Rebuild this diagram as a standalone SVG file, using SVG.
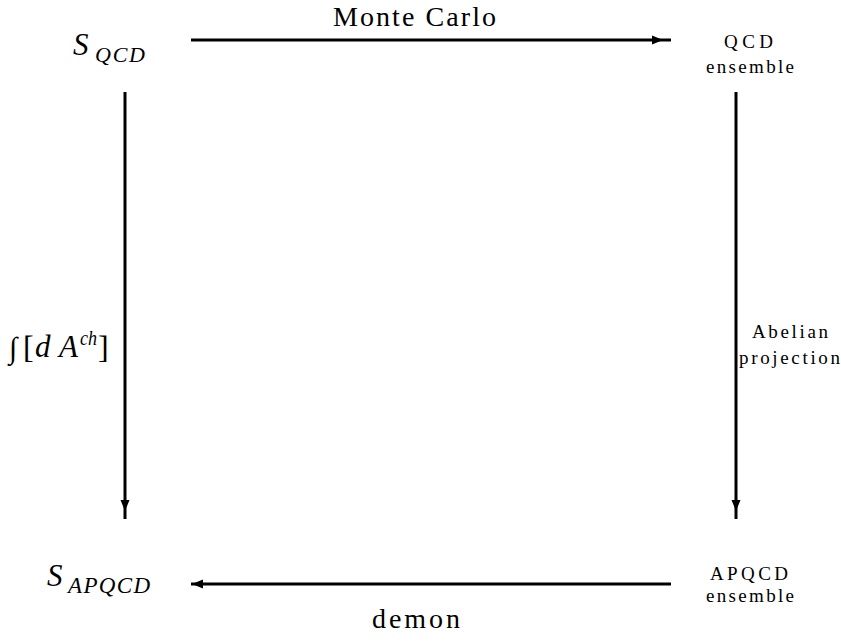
<svg xmlns="http://www.w3.org/2000/svg" width="841" height="643" viewBox="0 0 841 643">
  <style>
    text { font-family: "Liberation Serif", "Times New Roman", "DejaVu Serif", serif; fill: #000; }
    .it { font-style: italic; }
    .big { font-size: 28px; }
    .small { font-size: 19px; }
    .edge { stroke: #000; stroke-width: 3; fill: none; }
  </style>
  <defs>
    <!-- arrowhead pointing right, tip at origin -->
    <polygon id="head" points="-11,-4.5 0,0 -11,4.5" fill="#000"/>
  </defs>
  <rect width="841" height="643" fill="#fff"/>

  <g id="connectors">
    <line class="edge" x1="191" y1="40" x2="671" y2="40"/>
    <use href="#head" transform="translate(663,40)"/>
    <line class="edge" x1="125" y1="92" x2="125" y2="519"/>
    <use href="#head" transform="translate(125,511) rotate(90)"/>
    <line class="edge" x1="736" y1="92" x2="736" y2="519"/>
    <use href="#head" transform="translate(736,511) rotate(90)"/>
    <line class="edge" x1="191" y1="584" x2="671" y2="584"/>
    <use href="#head" transform="translate(192,584) rotate(180)"/>
  </g>

  <g id="edge-labels">
    <text class="big" x="333" y="26" textLength="163" lengthAdjust="spacing">Monte Carlo</text>
    <text class="big" x="372" y="628" textLength="88" lengthAdjust="spacing">demon</text>
    <!-- integral over the charged gluon fields -->
    <text x="9" y="358" font-size="30">∫</text>
    <text x="23" y="358" font-size="32">[</text>
    <text class="it" x="35" y="357" font-size="31" textLength="43" lengthAdjust="spacing">dA</text>
    <text class="it" x="80" y="345" font-size="20" textLength="17" lengthAdjust="spacingAndGlyphs">ch</text>
    <text x="98" y="358" font-size="32">]</text>
    <text class="small" x="752" y="338" textLength="76" lengthAdjust="spacing">Abelian</text>
    <text class="small" x="739" y="364" textLength="101" lengthAdjust="spacing">projection</text>
  </g>

  <g id="node-sqcd">
    <text class="it" x="73" y="55" font-size="31">S</text>
    <text class="it" x="95" y="62" font-size="22" textLength="50" lengthAdjust="spacing">QCD</text>
  </g>

  <g id="node-qcd-ensemble">
    <text class="small" x="724" y="48" textLength="49" lengthAdjust="spacing">QCD</text>
    <text class="small" x="706" y="73" textLength="88" lengthAdjust="spacing">ensemble</text>
  </g>

  <g id="node-sapqcd">
    <text class="it" x="47" y="586" font-size="31">S</text>
    <text class="it" x="68" y="593" font-size="23" textLength="82" lengthAdjust="spacing">APQCD</text>
  </g>

  <g id="node-apqcd-ensemble">
    <text class="small" x="710" y="580" textLength="78" lengthAdjust="spacing">APQCD</text>
    <text class="small" x="706" y="602" textLength="88" lengthAdjust="spacing">ensemble</text>
  </g>
</svg>
